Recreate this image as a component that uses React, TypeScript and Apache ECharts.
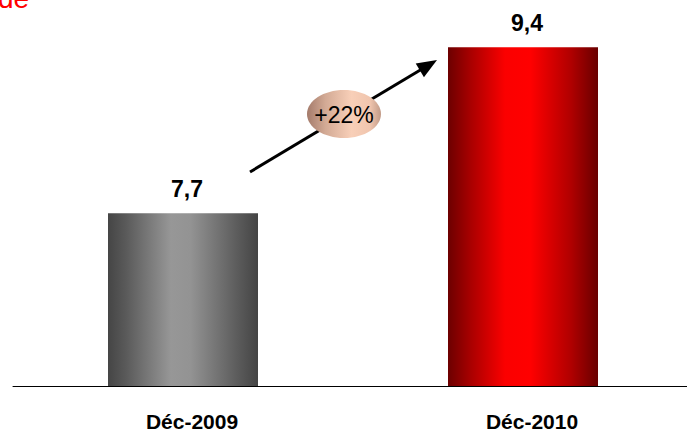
import React, { useEffect, useRef } from "react";
import * as echarts from "echarts";

// Year-end values (billions), shown with a comma decimal separator
const categories = ["Déc-2009", "Déc-2010"];
const values = [7.7, 9.4];
const valueLabels = ["7,7", "9,4"];
const growthLabel = "+22%";
const headingFragment = "de";

const grayGradient = new echarts.graphic.LinearGradient(0, 0, 1, 0, [
  { offset: 0, color: "#454545" },
  { offset: 0.12, color: "#5a5a5a" },
  { offset: 0.42, color: "#979797" },
  { offset: 0.55, color: "#939393" },
  { offset: 0.85, color: "#5e5e5e" },
  { offset: 1, color: "#444444" },
]);

const redGradient = new echarts.graphic.LinearGradient(0, 0, 1, 0, [
  { offset: 0, color: "#6c0000" },
  { offset: 0.15, color: "#a80000" },
  { offset: 0.38, color: "#fb0000" },
  { offset: 0.55, color: "#ff0000" },
  { offset: 0.82, color: "#b00000" },
  { offset: 1, color: "#680000" },
]);

const pillGradient = new echarts.graphic.LinearGradient(0, 0, 1, 0, [
  { offset: 0, color: "#a47b6b" },
  { offset: 0.25, color: "#d3aa95" },
  { offset: 0.6, color: "#f8cfb8" },
  { offset: 0.85, color: "#f0c5ae" },
  { offset: 1, color: "#c29b88" },
]);

const barColors = [grayGradient, redGradient];

export default function App() {
  const ref = useRef<HTMLDivElement>(null);

  useEffect(() => {
    if (!ref.current) return;
    const chart = echarts.init(ref.current, null, { renderer: "svg" });

    const arrowStart = [250, 172];
    const arrowTip = [437, 60];
    const dx = arrowTip[0] - arrowStart[0];
    const dy = arrowTip[1] - arrowStart[1];
    const len = Math.sqrt(dx * dx + dy * dy);
    const ux = dx / len;
    const uy = dy / len;
    const headLen = 20;
    const headHalf = 8;
    const baseX = arrowTip[0] - ux * headLen;
    const baseY = arrowTip[1] - uy * headLen;

    chart.setOption({
      animation: false,
      backgroundColor: "#ffffff",
      grid: { left: 13, right: 0, top: 37.4, bottom: 47, outerBoundsMode: "none" },
      xAxis: {
        type: "category",
        data: categories,
        axisTick: { show: false },
        axisLine: { show: true, lineStyle: { color: "#000000", width: 1 } },
        axisLabel: {
          color: "#000000",
          fontFamily: "Liberation Sans, Arial, sans-serif",
          fontWeight: "bold",
          fontSize: 21,
          lineHeight: 21,
          margin: 25,
          padding: [0, 0, 0, 18],
        },
      },
      yAxis: {
        type: "value",
        min: 5.93,
        max: 9.5,
        show: false,
        splitLine: { show: false },
      },
      series: [
        {
          type: "bar",
          barWidth: 150,
          data: values.map((v, i) => ({
            value: v,
            itemStyle: { color: barColors[i] },
            label: { formatter: valueLabels[i] },
          })),
          label: {
            show: true,
            position: "top",
            distance: 13,
            offset: [4, 0],
            color: "#000000",
            fontFamily: "Liberation Sans, Arial, sans-serif",
            fontWeight: "bold",
            fontSize: 23,
            lineHeight: 23,
          },
        },
      ],
      graphic: [
        {
          type: "text",
          left: -2,
          top: -16,
          style: {
            text: headingFragment,
            fill: "#ff0000",
            font: "28px 'Liberation Sans', Arial, sans-serif",
          },
        },
        {
          type: "line",
          shape: { x1: arrowStart[0], y1: arrowStart[1], x2: baseX + ux * 2, y2: baseY + uy * 2 },
          style: { stroke: "#000000", lineWidth: 3 },
        },
        {
          type: "polygon",
          shape: {
            points: [
              [arrowTip[0], arrowTip[1]],
              [baseX - uy * headHalf, baseY + ux * headHalf],
              [baseX + uy * headHalf, baseY - ux * headHalf],
            ],
          },
          style: { fill: "#000000" },
        },
        {
          type: "ellipse",
          shape: { cx: 344, cy: 114, rx: 37, ry: 24 },
          style: { fill: pillGradient },
        },
        {
          type: "text",
          x: 344,
          y: 115,
          style: {
            text: growthLabel,
            fill: "#000000",
            font: "23px 'Liberation Sans', Arial, sans-serif",
            textAlign: "center",
            textVerticalAlign: "middle",
          },
        },
      ],
    });

    return () => chart.dispose();
  }, []);

  // The plot area runs slightly past the visible frame so the axis line
  // reaches the right edge; the outer frame crops the overflow.
  return (
    <div
      style={{
        position: "absolute",
        left: 0,
        top: 0,
        width: 687,
        height: 433,
        overflow: "hidden",
      }}
    >
      <div ref={ref} style={{ width: 693, height: 433 }} />
    </div>
  );
}
